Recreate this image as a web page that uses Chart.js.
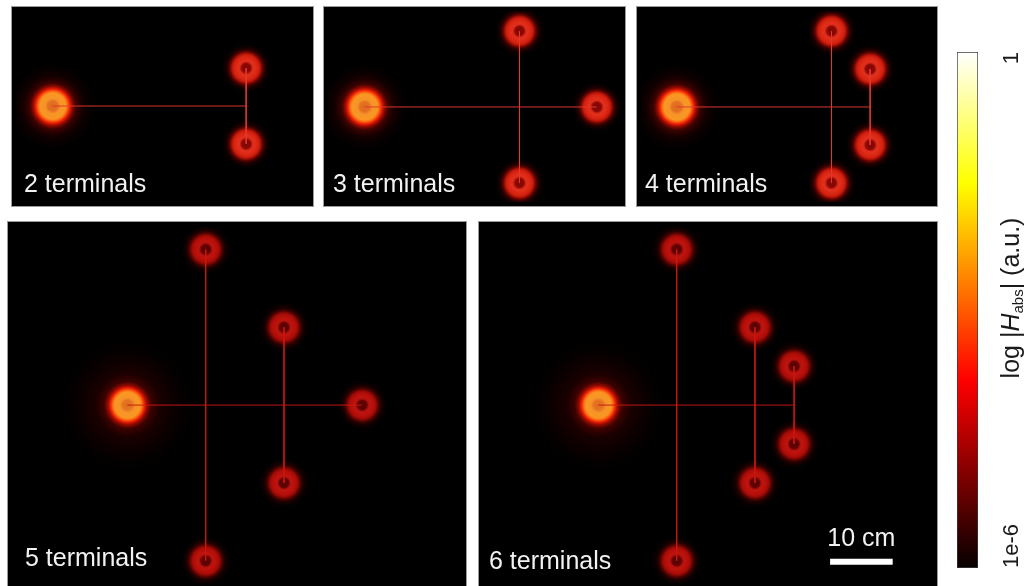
<!DOCTYPE html>
<html>
<head>
<meta charset="utf-8">
<script src="https://cdn.jsdelivr.net/npm/chart.js@4.4.1/dist/chart.umd.min.js"></script>
<style>
  html, body { margin: 0; padding: 0; background: #ffffff; }
  #fig { position: relative; width: 1030px; height: 586px; overflow: hidden; background: #ffffff; }
  #fig canvas { position: absolute; }
</style>
</head>
<body>
<div id="fig"></div>
<script>
// ---- Layout data (cm, measured from the source antenna of each layout) ----
const panelTitles = ['2 terminals', '3 terminals', '4 terminals', '5 terminals', '6 terminals'];

const term2X = [31.25, 31.25];
const term2Y = [6.25, -6.25];
const wires2 = [[0, 0, 31.25, 0], [31.25, 6.25, 31.25, -6.25]];

const term3X = [25, 37.5, 25];
const term3Y = [12.5, 0, -12.5];
const wires3 = [[0, 0, 37.5, 0], [25, 12.5, 25, -12.5]];

const term4X = [25, 31.25, 31.25, 25];
const term4Y = [12.5, 6.25, -6.25, -12.5];
const wires4 = [[0, 0, 31.25, 0], [25, 12.5, 25, -12.5], [31.25, 6.25, 31.25, -6.25]];

const term5X = [12.5, 25, 37.5, 25, 12.5];
const term5Y = [25, 12.5, 0, -12.5, -25];
const wires5 = [[0, 0, 37.5, 0], [12.5, 25, 12.5, -25], [25, 12.5, 25, -12.5]];

const term6X = [12.5, 25, 31.25, 31.25, 25, 12.5];
const term6Y = [25, 12.5, 6.25, -6.25, -12.5, -25];
const wires6 = [[0, 0, 31.25, 0], [12.5, 25, 12.5, -25], [25, 12.5, 25, -12.5], [31.25, 6.25, 31.25, -6.25]];

const scaleBarCm = 10;
const scaleBarStart = [37, -25.15];

// colour bar: log10 of |H_abs|
const cbarExponents = [-6, 0];
const cbarTickLabels = ['1e-6', '1'];
const cbarTitle = ['log |', 'H', 'abs', '| (a.u.)'];

// ---- Page geometry ----
const PX_PER_CM = 6.4;
const panels = [
  { left: 11,  top: 6,   w: 303, h: 201, src: [49, 106],  tx: 13, ty: 186, big: false, termX: term2X, termY: term2Y, wires: wires2 },
  { left: 323, top: 6,   w: 303, h: 201, src: [361, 107], tx: 10, ty: 186, big: false, termX: term3X, termY: term3Y, wires: wires3 },
  { left: 636, top: 6,   w: 302, h: 201, src: [673, 107], tx: 9,  ty: 186, big: false, termX: term4X, termY: term4Y, wires: wires4 },
  { left: 7,   top: 221, w: 460, h: 375, src: [125, 405], tx: 18, ty: 345, big: true,  termX: term5X, termY: term5Y, wires: wires5 },
  { left: 478, top: 221, w: 460, h: 375, src: [596, 405], tx: 11, ty: 348, big: true,  termX: term6X, termY: term6Y, wires: wires6, scaleBar: true }
];

const fig = document.getElementById('fig');
const LABEL_FONT = '25px "Liberation Sans", Arial, sans-serif';

// radial glow sprite used as a point style
function makeGlow(R, stops) {
  const c = document.createElement('canvas');
  c.width = 2 * R; c.height = 2 * R;
  const g = c.getContext('2d');
  const grad = g.createRadialGradient(R, R, 0, R, R, R);
  stops.forEach(([r, col]) => grad.addColorStop(Math.min(1, r / R), col));
  g.fillStyle = grad;
  g.fillRect(0, 0, 2 * R, 2 * R);
  return c;
}

const srcSmall = makeGlow(48, [
  [0, 'rgb(222,104,32)'], [5, 'rgb(228,114,34)'], [7.5, 'rgb(246,148,40)'], [13, 'rgb(250,152,36)'],
  [15, 'rgb(255,96,16)'], [17, 'rgb(236,32,6)'], [19.5, 'rgb(150,10,0)'], [23, 'rgb(62,3,0)'],
  [30, 'rgba(24,0,0,0.85)'], [48, 'rgba(0,0,0,0)']
]);
const srcBig = makeGlow(74, [
  [0, 'rgb(222,108,32)'], [5, 'rgb(230,118,34)'], [7.5, 'rgb(247,148,40)'], [13, 'rgb(250,152,36)'],
  [15, 'rgb(255,98,16)'], [17, 'rgb(236,32,6)'], [19.5, 'rgb(150,10,0)'], [23.5, 'rgb(62,3,0)'],
  [32, 'rgba(30,0,0,0.9)'], [48, 'rgba(16,0,0,0.7)'], [74, 'rgba(0,0,0,0)']
]);
const termSmall = makeGlow(28, [
  [0, 'rgb(128,6,4)'], [4.5, 'rgb(140,8,5)'], [6.5, 'rgb(220,44,26)'], [8, 'rgb(226,48,28)'],
  [12, 'rgb(214,36,18)'], [14, 'rgb(190,22,10)'], [16, 'rgb(110,6,0)'], [18.5, 'rgb(42,1,0)'],
  [23, 'rgba(10,0,0,0.6)'], [28, 'rgba(0,0,0,0)']
]);
const termBig = makeGlow(28, [
  [0, 'rgb(88,2,2)'], [4.5, 'rgb(98,3,3)'], [6.5, 'rgb(182,18,14)'], [8, 'rgb(190,20,14)'],
  [12, 'rgb(178,14,10)'], [14, 'rgb(152,10,6)'], [16, 'rgb(88,4,0)'], [18.5, 'rgb(34,1,0)'],
  [23, 'rgba(10,0,0,0.6)'], [28, 'rgba(0,0,0,0)']
]);

// black field, grey frame and caption for each layout
function panelDecor(title, p) {
  return {
    id: 'panelDecor',
    beforeDraw(chart) {
      const ctx = chart.ctx;
      ctx.save();
      ctx.fillStyle = '#000000';
      ctx.fillRect(0, 0, chart.width, chart.height);
      ctx.restore();
    },
    afterDraw(chart) {
      const ctx = chart.ctx;
      ctx.save();
      ctx.strokeStyle = '#9a9a9a';
      ctx.lineWidth = 1;
      ctx.strokeRect(0.5, 0.5, chart.width - 1, chart.height - 1);
      ctx.fillStyle = '#f2f2f2';
      ctx.font = LABEL_FONT;
      ctx.textAlign = 'left';
      ctx.textBaseline = 'alphabetic';
      ctx.fillText(title, p.tx, p.ty);
      if (p.scaleBar) {
        const xs = chart.scales.x, ys = chart.scales.y;
        const cx = (xs.getPixelForValue(scaleBarStart[0]) + xs.getPixelForValue(scaleBarStart[0] + scaleBarCm)) / 2;
        const cy = ys.getPixelForValue(scaleBarStart[1]);
        ctx.textAlign = 'center';
        ctx.fillText(scaleBarCm + ' cm', cx, cy - 16);
      }
      ctx.restore();
    }
  };
}

panels.forEach((p, i) => {
  const cv = document.createElement('canvas');
  cv.width = p.w; cv.height = p.h;
  cv.style.left = p.left + 'px';
  cv.style.top = p.top + 'px';
  cv.style.width = p.w + 'px';
  cv.style.height = p.h + 'px';
  fig.appendChild(cv);

  const xMin = -(p.src[0] - p.left) / PX_PER_CM;
  const yMax = (p.src[1] - p.top) / PX_PER_CM;
  const wireColor = p.big ? 'rgba(200,24,16,0.95)' : 'rgba(226,56,44,0.95)';

  const datasets = [];
  p.wires.forEach(w => datasets.push({
    type: 'scatter', showLine: true,
    data: [{ x: w[0], y: w[1] }, { x: w[2], y: w[3] }],
    borderColor: wireColor, borderWidth: 1, pointRadius: 0, order: 1
  }));
  datasets.push({
    type: 'scatter',
    data: [{ x: 0, y: 0 }],
    pointStyle: p.big ? srcBig : srcSmall, pointRadius: 3, order: 2
  });
  datasets.push({
    type: 'scatter',
    data: p.termX.map((x, k) => ({ x, y: p.termY[k] })),
    pointStyle: p.big ? termBig : termSmall, pointRadius: 3, order: 2
  });
  if (p.scaleBar) {
    datasets.push({
      type: 'scatter', showLine: true,
      data: [{ x: scaleBarStart[0], y: scaleBarStart[1] }, { x: scaleBarStart[0] + scaleBarCm, y: scaleBarStart[1] }],
      borderColor: '#ffffff', borderWidth: 6, borderCapStyle: 'butt', pointRadius: 0, order: 0
    });
  }

  new Chart(cv, {
    type: 'scatter',
    data: { datasets },
    options: {
      responsive: false,
      animation: false,
      devicePixelRatio: 1,
      events: [],
      layout: { padding: 0 },
      plugins: { legend: { display: false }, tooltip: { enabled: false } },
      scales: {
        x: { type: 'linear', display: false, min: xMin, max: xMin + p.w / PX_PER_CM },
        y: { type: 'linear', display: false, min: yMax - p.h / PX_PER_CM, max: yMax }
      }
    },
    plugins: [panelDecor(panelTitles[i], p)]
  });
});

// ---- colour bar ----
(function () {
  const left = 945, top = 0, w = 85, h = 586;
  const cv = document.createElement('canvas');
  cv.width = w; cv.height = h;
  cv.style.left = left + 'px'; cv.style.top = top + 'px';
  cv.style.width = w + 'px'; cv.style.height = h + 'px';
  fig.appendChild(cv);

  const hotGradient = (ctx) => {
    const area = ctx.chart.chartArea;
    if (!area) return '#000';
    const g = ctx.chart.ctx.createLinearGradient(0, area.bottom, 0, area.top);
    g.addColorStop(0, 'rgb(6,0,0)');
    g.addColorStop(0.365, 'rgb(255,0,0)');
    g.addColorStop(0.746, 'rgb(255,255,0)');
    g.addColorStop(1, 'rgb(255,255,255)');
    return g;
  };

  const cbarText = {
    id: 'cbarText',
    afterDraw(chart) {
      const ctx = chart.ctx;
      const ys = chart.scales.y;
      const tx = 67;
      ctx.save();
      ctx.fillStyle = '#1a1a1a';
      ctx.textBaseline = 'middle';
      const font = (s, it) => (it ? 'italic ' : '') + s + 'px "Liberation Sans", Arial, sans-serif';
      // tick labels, rotated
      cbarExponents.forEach((v, k) => {
        ctx.save();
        ctx.translate(tx, ys.getPixelForValue(v));
        ctx.rotate(-Math.PI / 2);
        ctx.font = font(22, false);
        ctx.textAlign = v === ys.max ? 'right' : 'left';
        ctx.fillText(cbarTickLabels[k], 0, 0);
        ctx.restore();
      });
      // axis title with italic H and subscript
      const parts = [
        { t: cbarTitle[0], f: font(25, false), dy: 0 },
        { t: cbarTitle[1], f: font(25, true), dy: 0 },
        { t: cbarTitle[2], f: font(15, false), dy: 7 },
        { t: cbarTitle[3], f: font(25, false), dy: 0 }
      ];
      let total = 0;
      parts.forEach(pt => { ctx.font = pt.f; pt.w = ctx.measureText(pt.t).width; total += pt.w; });
      ctx.translate(tx, 298);
      ctx.rotate(-Math.PI / 2);
      ctx.textAlign = 'left';
      let x = -total / 2;
      parts.forEach(pt => { ctx.font = pt.f; ctx.fillText(pt.t, x, pt.dy); x += pt.w; });
      ctx.restore();
    }
  };

  new Chart(cv, {
    type: 'bar',
    data: {
      labels: ['|H|'],
      datasets: [{
        data: [[cbarExponents[0], cbarExponents[1]]],
        backgroundColor: hotGradient,
        borderColor: '#3a3a3a', borderWidth: 1, borderSkipped: false,
        barPercentage: 1, categoryPercentage: 1
      }]
    },
    options: {
      responsive: false,
      animation: false,
      devicePixelRatio: 1,
      events: [],
      layout: { padding: { left: 12, right: 52, top: 52, bottom: 18 } },
      plugins: { legend: { display: false }, tooltip: { enabled: false } },
      scales: {
        x: { display: false },
        y: { display: false, min: cbarExponents[0], max: cbarExponents[1] }
      }
    },
    plugins: [cbarText]
  });
})();
</script>
</body>
</html>
